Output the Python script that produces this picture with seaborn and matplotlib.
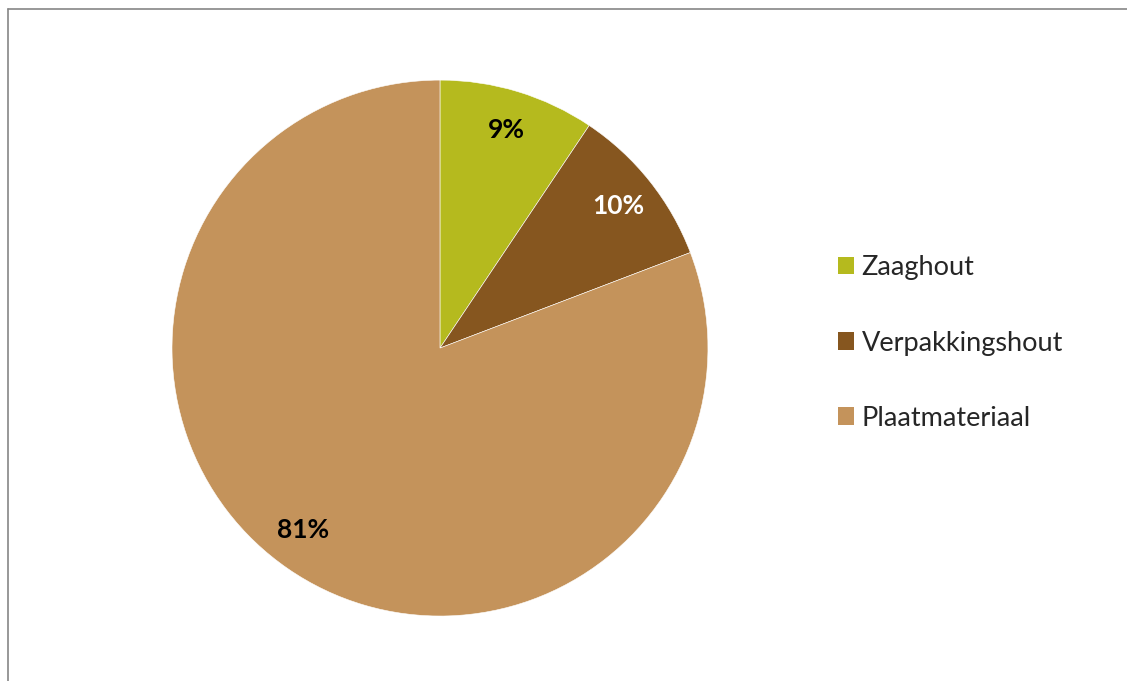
import numpy as np
import matplotlib
matplotlib.use("Agg")
import matplotlib.pyplot as plt
from matplotlib.patches import Patch
from matplotlib.lines import Line2D
import seaborn as sns

categorieen = ["Zaaghout", "Verpakkingshout", "Plaatmateriaal"]
aandeel = [9.4, 9.8, 80.8]
kleuren = ["#B5BA1E", "#86561F", "#C4935B"]
label_kleur = ["black", "white", "black"]

sns.set_theme(style="white")
plt.rcParams['font.family'] = ['Lato', 'DejaVu Sans']

fig = plt.figure(figsize=(11.27, 6.81), dpi=100)
ax = fig.add_axes([0.1526, 0.0954, 0.4756, 0.787])

wedges, teksten, pct = ax.pie(
    aandeel, colors=kleuren, startangle=90, counterclock=False,
    autopct='%1.0f%%', pctdistance=0.85,
    wedgeprops=dict(edgecolor='white', linewidth=0.4),
    textprops=dict(fontsize=19, fontweight='bold'))
ax.set_xlim(-1, 1)
ax.set_ylim(-1, 1)
ax.set_aspect('equal')

for t, c in zip(pct, label_kleur):
    t.set_color(c)

# Excel zet het label van het grote stuk lager links
hoek = np.deg2rad(233)
pct[2].set_position((0.85 * np.cos(hoek), 0.85 * np.sin(hoek)))

handles = [Patch(facecolor=k, edgecolor='none') for k in kleuren]
fig.legend(handles, categorieen, loc='center left',
           bbox_to_anchor=(0.7436, 0.4963), frameon=False, fontsize=19.5,
           labelspacing=1.85, handlelength=0.6, handleheight=0.6,
           handletextpad=0.27, borderpad=0, borderaxespad=0)

# grijze rand van het grafiekgebied
x0 = 7.5 / 1127
y0 = 1 - 8.5 / 681
fig.add_artist(Line2D([x0, 1], [y0, y0], color='#868686', lw=1.2, transform=fig.transFigure))
fig.add_artist(Line2D([x0, x0], [0, y0], color='#868686', lw=1.2, transform=fig.transFigure))

fig.savefig("out.png", dpi=100)
